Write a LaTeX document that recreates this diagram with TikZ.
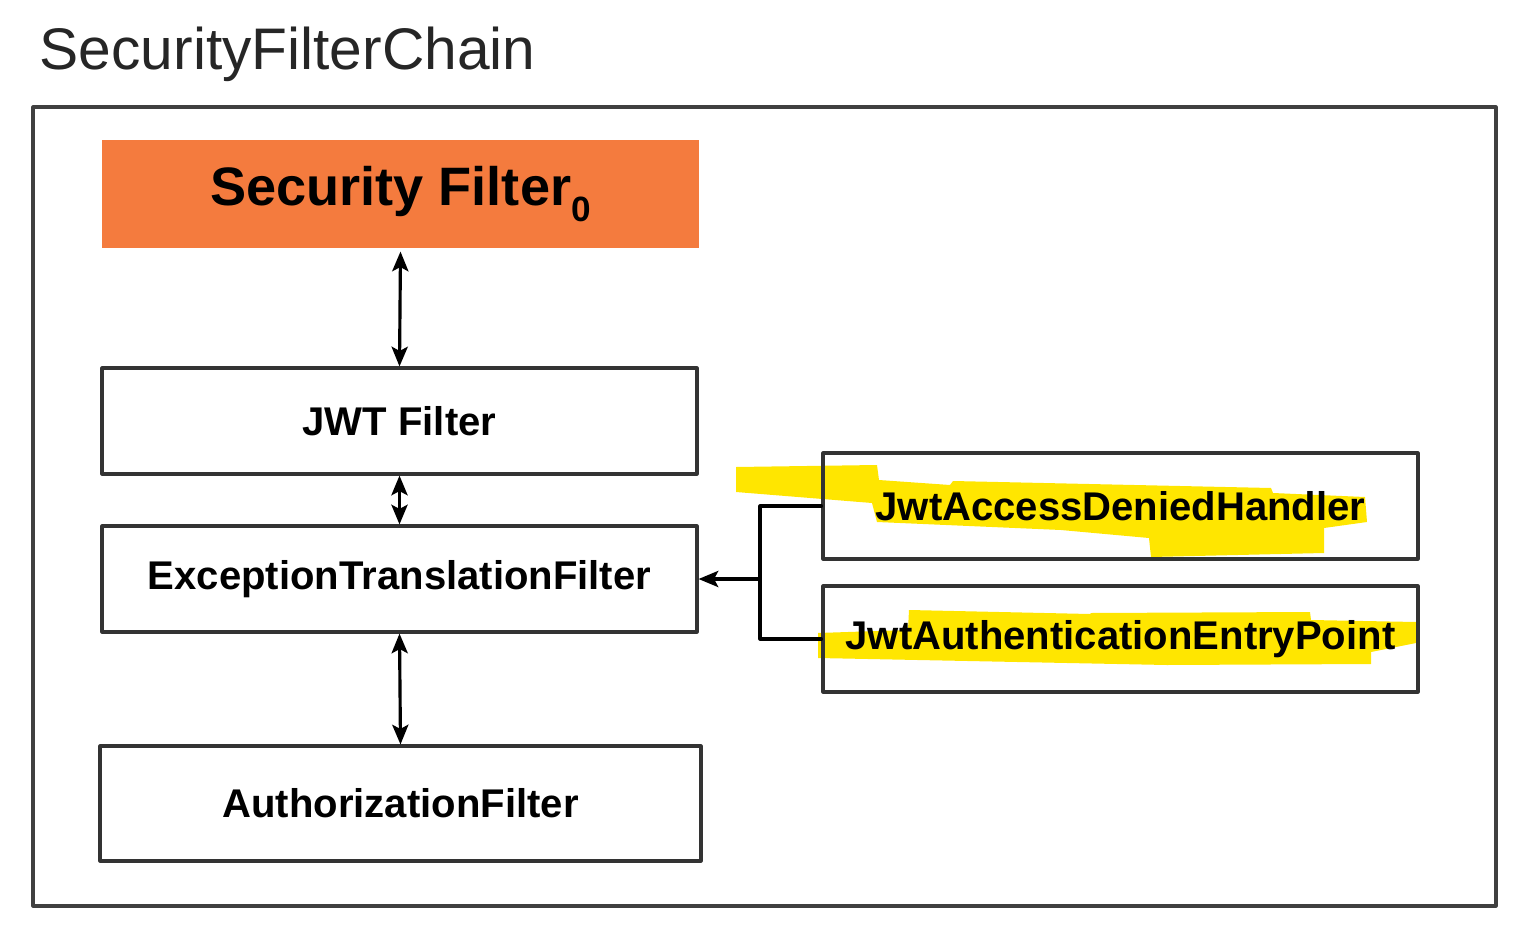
\documentclass[tikz,border=0pt]{standalone}
\usepackage{fontspec}
\setmainfont{Liberation Sans}
\usetikzlibrary{arrows.meta}
\definecolor{filterorange}{RGB}{244,123,62}
\definecolor{marker}{RGB}{255,230,0}
\begin{document}
\begin{tikzpicture}[x=1cm,y=1cm,line cap=round,line join=round,
  filterbox/.style={draw=black!80,line width=0.9pt,minimum width=5.95cm,minimum height=1.06cm,inner sep=0pt,
    font=\fontsize{11.4}{13}\selectfont\bfseries},
  tip/.tip={Stealth[length=5.6pt,width=4.6pt,inset=1.2pt]},
  link/.style={line width=0.9pt,tip-tip}]
  \useasboundingbox (0,0) rectangle (15.18,9.40);
  % title and frame
  \node[anchor=west,inner sep=0pt,text=black!85,font=\fontsize{16.7}{19}\selectfont] (title) at (0.39,8.86) {SecurityFilterChain};
  \draw[black!75,line width=0.9pt] (0.33,8.33) rectangle (14.96,0.34);
  % marker strokes
  \fill[marker] (7.36,4.73) -- (8.77,4.75) -- (8.79,4.60) -- (9.50,4.55) -- (9.53,4.59) -- (12.71,4.52)
    -- (12.73,4.47) -- (13.65,4.43) -- (13.67,4.18) -- (13.24,4.12) -- (13.24,3.87) -- (11.51,3.83)
    -- (11.49,4.02) -- (10.61,4.10) -- (8.77,4.18) -- (8.72,4.37) -- (7.36,4.48) -- cycle;
  \fill[marker] (8.18,3.07) -- (9.08,3.10) -- (9.09,3.30) -- (10.90,3.26) -- (10.91,3.27) -- (13.10,3.28)
    -- (13.11,3.20) -- (14.16,3.18) -- (14.16,2.97) -- (13.71,2.88) -- (13.71,2.76) -- (11.67,2.75)
    -- (8.18,2.82) -- cycle;
  % filters
  \node[filterbox,draw=none,fill=filterorange,minimum width=5.97cm,minimum height=1.08cm,
    font=\fontsize{15.4}{17}\selectfont\bfseries] (sf0) at (4.005,7.46)
    {Security Filter\raisebox{-0.55ex}{\fontsize{10}{10}\selectfont 0}};
  \node[filterbox] (jwt) at (3.995,5.19) {JWT Filter};
  \node[filterbox] (etf) at (3.995,3.61) {ExceptionTranslationFilter};
  \node[filterbox,minimum width=6.01cm,minimum height=1.15cm] (auth) at (4.005,1.365) {AuthorizationFilter};
  \node[filterbox] (adh) at (11.205,4.34) {JwtAccessDeniedHandler};
  \node[filterbox] (aep) at (11.205,3.01) {JwtAuthenticationEntryPoint};
  % connectors
  \draw[link] ([yshift=-0.02cm]sf0.south) -- (jwt.north);
  \draw[link] (jwt.south) -- (etf.north);
  \draw[link] (etf.south) -- (auth.north);
  \coordinate (join) at (7.60,3.61);
  \draw[line width=0.9pt] (adh.west) -| (join);
  \draw[line width=0.9pt] (aep.west) -| (join);
  \draw[line width=0.9pt,-tip] (join) -- (etf.east);
\end{tikzpicture}
\end{document}
